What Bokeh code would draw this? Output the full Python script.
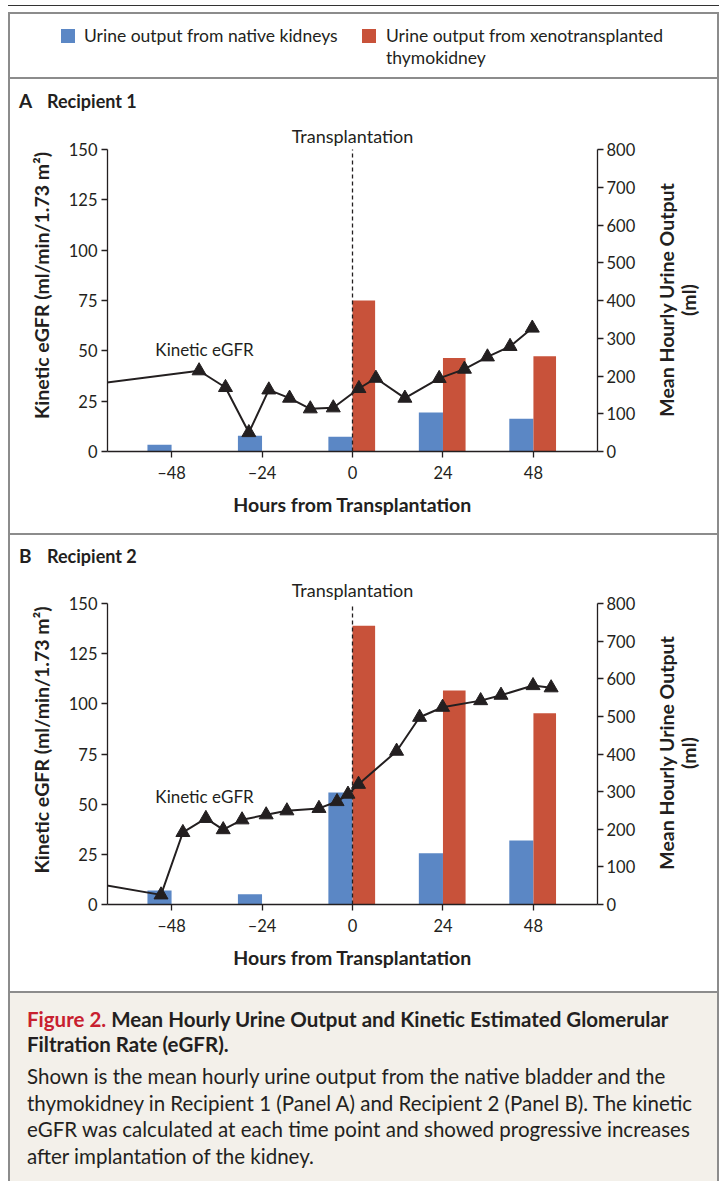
import math
from bokeh.plotting import figure
from bokeh.models import Range1d, LinearAxis, Div, FixedTicker, Spacer
from bokeh.layouts import column, row
from bokeh.core.properties import value
from bokeh.embed import file_html
from bokeh.resources import INLINE

# ---------------- data ----------------
hour_ticks = [-48, -24, 0, 24, 48]
egfr_ticks = [0, 25, 50, 75, 100, 125, 150]
urine_ticks = [0, 100, 200, 300, 400, 500, 600, 700, 800]

native_hours = [-48, -24, 0, 24, 48]
xeno_hours = [0, 24, 48]
transplant_hour = [0]

# Recipient 1 (Panel A)
a_native_ml = [18, 42, 39, 103, 87]
a_xeno_ml = [400, 248, 252]
a_egfr_hours = [-72, -40.7, -33.7, -27.5, -22.2, -16.7, -11.2, -5.1, 1.7, 6.2,
                13.9, 23.0, 29.7, 35.8, 41.8, 47.7]
a_egfr = [32.6, 40.1, 31.8, 9.4, 30.6, 26.5, 21.2, 21.7, 31.3, 36.4,
          26.5, 36.3, 40.9, 47.0, 52.2, 61.3]

# Recipient 2 (Panel B)
b_native_ml = [37, 27, 298, 136, 170]
b_xeno_ml = [741, 569, 508]
b_egfr_hours = [-72, -50.8, -45.0, -38.9, -34.3, -29.3, -22.9, -17.4, -8.9, -4.1,
                -1.2, 1.6, 11.7, 17.8, 23.9, 34.0, 39.4, 47.9, 52.7]
b_egfr = [11.7, 4.8, 35.9, 42.9, 37.3, 42.2, 44.7, 46.7, 47.9, 51.3,
          55.0, 59.9, 76.4, 93.3, 98.3, 101.6, 104.3, 109.1, 108.0]

# ---------------- styles ----------------
FONT = "Lato"
INK = "#231f20"
BLUE = "#5b87c5"
RED = "#c8523a"
GRAY = "#8c8c8c"
W_INNER = 707
FIG_W = 632
TITLE_W = W_INNER - FIG_W
EGFR_MAX = 150
URINE_MAX = 800


def style_axis(ax):
    ax.axis_line_color = INK
    ax.axis_line_width = 1.3
    ax.major_tick_line_color = INK
    ax.major_tick_line_width = 1.3
    ax.major_tick_in = 0
    ax.major_tick_out = 6
    ax.minor_tick_in = 0
    ax.minor_tick_out = 0
    ax.major_label_text_font = FONT
    ax.major_label_text_font_size = "16.5px"
    ax.major_label_text_color = INK
    ax.axis_label_text_font = FONT
    ax.axis_label_text_font_style = "bold"
    ax.axis_label_text_font_size = "19.5px"
    ax.axis_label_text_color = INK


def make_panel(native_ml, xeno_ml, eh, ev, egfr_lab_y, height, top_pad, bottom):
    frame_h = height - bottom
    scale = frame_h / (frame_h - top_pad)          # frame top lies above 150
    px_per_unit = (frame_h - top_pad) / EGFR_MAX
    p = figure(width=FIG_W, height=height, title=None,
               x_range=Range1d(-65, 65), y_range=Range1d(0, EGFR_MAX * scale),
               min_border_left=97, min_border_right=45,
               min_border_top=0, min_border_bottom=bottom,
               output_backend="svg", toolbar_location=None, tools="")
    p.extra_y_ranges = {"urine": Range1d(0, URINE_MAX * scale)}
    p.outline_line_color = None
    p.xgrid.visible = False
    p.ygrid.visible = False
    p.background_fill_color = "white"
    p.border_fill_color = "white"

    # bars
    p.vbar(x=[h - 3.2 for h in native_hours], top=native_ml, width=6.4,
           color=BLUE, line_color=None, y_range_name="urine")
    p.vbar(x=[h + 3.0 for h in xeno_hours], top=xeno_ml, width=6.0,
           color=RED, line_color=None, y_range_name="urine")

    # transplantation line
    p.segment(x0=transplant_hour, y0=[0], x1=transplant_hour, y1=[EGFR_MAX],
              line_color=INK, line_width=1.3, line_dash="4 3")
    p.text(x=transplant_hour, y=[EGFR_MAX + 14 / px_per_unit], text=["Transplantation"],
           text_align="center", text_baseline="middle", text_font=value(FONT),
           text_font_size="18px", text_color=INK)

    # kinetic eGFR
    p.line(eh, ev, line_color=INK, line_width=2)
    p.scatter(eh, ev, marker="triangle", size=14, color=INK)
    p.text(x=[-52.3], y=[egfr_lab_y], text=["Kinetic eGFR"],
           text_align="left", text_baseline="middle", text_font=value(FONT),
           text_font_size="17px", text_color=INK)

    # axes
    p.xaxis.ticker = FixedTicker(ticks=hour_ticks)
    p.xaxis.major_label_overrides = {-48: "\u201348", -24: "\u201324"}
    p.xaxis.axis_label = "Hours from Transplantation"
    p.xaxis.major_label_standoff = 5
    p.xaxis.axis_label_standoff = 7
    p.yaxis.ticker = FixedTicker(ticks=egfr_ticks)
    p.yaxis.bounds = (0, EGFR_MAX)
    p.yaxis.axis_label = "Kinetic eGFR (ml/min/1.73 m\u00b2)"
    p.yaxis.major_label_standoff = 4
    p.yaxis.axis_label_standoff = 13
    right = LinearAxis(y_range_name="urine", ticker=FixedTicker(ticks=urine_ticks),
                       bounds=(0, URINE_MAX))
    p.add_layout(right, "right")
    right.major_label_standoff = 3
    for ax in [p.xaxis[0], p.yaxis[0], right]:
        style_axis(ax)
    return p


def right_title(height, cy):
    # rotated (bottom-to-top) two-line title of the right axis
    html = (f'<div style="position:relative;width:{TITLE_W}px;height:{height}px;margin:0">'
            f'<div style="position:absolute;left:{36 - 150}px;top:{cy - 22}px;width:300px;'
            f'height:44px;line-height:22px;text-align:center;white-space:nowrap;'
            f'font-family:{FONT};font-size:19.5px;font-weight:bold;color:{INK};'
            f'transform:rotate(-90deg)">Mean Hourly Urine Output<br>(ml)</div></div>')
    return Div(text=html, width=TITLE_W, height=height, margin=0)


def header(letter, name, top):
    html = (f'<div style="position:relative;width:{W_INNER}px;height:40px;font-family:{FONT};'
            f'color:{INK};font-weight:bold;margin:0">'
            f'<span style="position:absolute;left:9px;top:{top}px;font-size:19px;line-height:24px">{letter}</span>'
            f'<span style="position:absolute;left:37px;top:{top}px;font-size:18px;line-height:24px">{name}</span>'
            '</div>')
    return Div(text=html, width=W_INNER, height=40, margin=0)


pA = make_panel(a_native_ml, a_xeno_ml, a_egfr_hours, a_egfr, 50.7, 414, 30, 82)
pB = make_panel(b_native_ml, b_xeno_ml, b_egfr_hours, b_egfr, 53.8, 416, 28, 87)
panelA = row(pA, right_title(414, 181), spacing=0)
panelB = row(pB, right_title(416, 178), spacing=0)


def block(w, h, color):
    return Div(text="", width=w, height=h, margin=0,
               styles={"background-color": color})


legend_html = f'''<div style="position:relative;width:{W_INNER}px;height:63px;font-family:{FONT};font-size:17.5px;color:{INK};margin:0">
<div style="position:absolute;left:51px;top:15px;width:14px;height:14px;background:{BLUE}"></div>
<div style="position:absolute;left:74px;top:11px;line-height:22px;white-space:nowrap">Urine output from native kidneys</div>
<div style="position:absolute;left:352px;top:15px;width:14px;height:14px;background:{RED}"></div>
<div style="position:absolute;left:376px;top:11px;line-height:22px;white-space:nowrap">Urine output from xenotransplanted<br>thymokidney</div>
</div>'''
legend = Div(text=legend_html, width=W_INNER, height=63, margin=0)

caption_html = f'''<div style="position:relative;width:{W_INNER}px;height:188px;background:#f3f0ea;font-family:{FONT};color:{INK};margin:0">
<div style="position:absolute;left:17px;top:14px;font-size:20.5px;font-weight:bold;line-height:25px;white-space:nowrap"><span style="color:#c8202f">Figure 2.</span> Mean Hourly Urine Output and Kinetic Estimated Glomerular<br>Filtration Rate (eGFR).</div>
<div style="position:absolute;left:17px;top:70px;font-size:20.5px;line-height:26.7px;white-space:nowrap">Shown is the mean hourly urine output from the native bladder and the<br>thymokidney in Recipient 1 (Panel A) and Recipient 2 (Panel B). The kinetic<br>eGFR was calculated at each time point and showed progressive increases<br>after implantation of the kidney.</div>
</div>'''
caption = Div(text=caption_html, width=W_INNER, height=188, margin=0)

inner = column(legend, block(W_INNER, 2, GRAY),
               header("A", "Recipient 1", 10), panelA, block(W_INNER, 2, GRAY),
               header("B", "Recipient 2", 9), panelB, block(W_INNER, 2, GRAY),
               caption, spacing=0)
INNER_H = 63 + 2 + 40 + 414 + 2 + 40 + 416 + 2 + 188
boxed = column(block(711, 2, GRAY),
               row(block(2, INNER_H, GRAY), inner, block(2, INNER_H, GRAY), spacing=0),
               spacing=0)
layout = column(
    Spacer(width=719, height=5),
    row(Spacer(width=8, height=1), block(711, 1, "#333"), spacing=0),
    Spacer(width=719, height=6),
    row(Spacer(width=8, height=INNER_H + 2), boxed, spacing=0),
    spacing=0)

open("out.html", "w").write(file_html(layout, INLINE))
